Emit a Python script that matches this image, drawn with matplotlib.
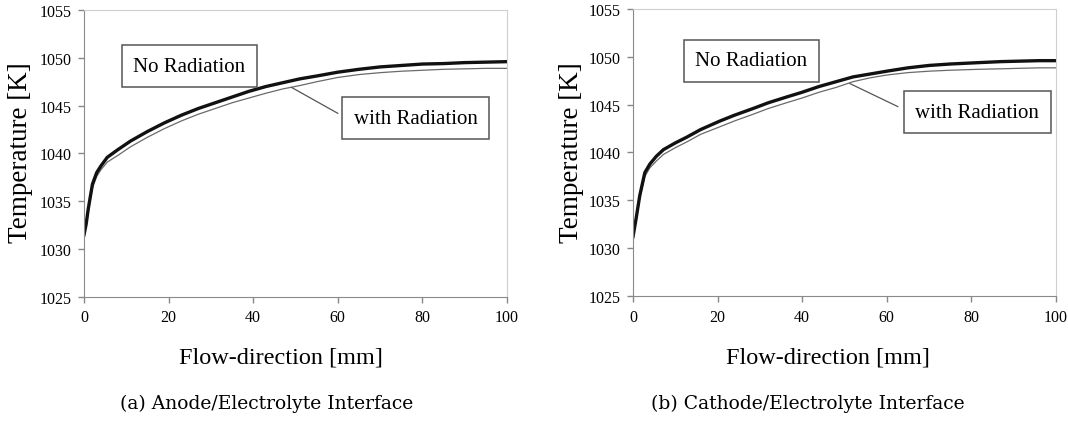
import numpy as np
import matplotlib
matplotlib.use("Agg")
import matplotlib.pyplot as plt

### Data
# (a) Anode/Electrolyte interface
x_a = [0, 0.5, 1, 2, 3, 4, 5.5, 8, 11, 15, 19, 23, 27, 31, 35, 39, 43, 47, 51, 55,
       60, 65, 70, 75, 80, 85, 90, 95, 100]
no_rad_a = [1031.5, 1032.6, 1034.2, 1036.8, 1038.0, 1038.7, 1039.6, 1040.4, 1041.3,
            1042.3, 1043.2, 1044.0, 1044.7, 1045.3, 1045.9, 1046.5, 1047.0, 1047.4,
            1047.8, 1048.1, 1048.5, 1048.8, 1049.05, 1049.2, 1049.35, 1049.4, 1049.5,
            1049.55, 1049.6]
with_rad_a = [1031.3, 1032.4, 1033.9, 1036.4, 1037.6, 1038.3, 1039.1, 1039.8, 1040.7,
              1041.7, 1042.6, 1043.4, 1044.1, 1044.7, 1045.3, 1045.8, 1046.3, 1046.75,
              1047.1, 1047.5, 1047.95, 1048.25, 1048.45, 1048.6, 1048.7, 1048.8,
              1048.85, 1048.9, 1048.9]

# (b) Cathode/Electrolyte interface
x_b = [0, 0.7, 1.6, 2.8, 4, 5.5, 7.2, 10, 12.7, 16, 20.6, 24, 28.4, 32, 36.3, 40, 44,
       48, 52, 56, 60, 65, 70, 75, 82, 87, 91.5, 96, 100]
no_rad_b = [1031.2, 1033.0, 1035.5, 1037.9, 1038.8, 1039.6, 1040.3, 1041.0, 1041.6,
            1042.4, 1043.3, 1043.9, 1044.6, 1045.2, 1045.8, 1046.3, 1046.9, 1047.4,
            1047.9, 1048.2, 1048.5, 1048.85, 1049.1, 1049.25, 1049.4, 1049.5, 1049.55,
            1049.6, 1049.6]
with_rad_b = [1031.1, 1032.8, 1035.2, 1037.5, 1038.4, 1039.1, 1039.8, 1040.5, 1041.1,
              1041.9, 1042.7, 1043.3, 1044.0, 1044.6, 1045.2, 1045.7, 1046.3, 1046.8,
              1047.4, 1047.8, 1048.1, 1048.35, 1048.5, 1048.6, 1048.7, 1048.75, 1048.8,
              1048.85, 1048.85]

captions = ['(a) Anode/Electrolyte Interface', '(b) Cathode/Electrolyte Interface']
yticks = [1025, 1030, 1035, 1040, 1045, 1050, 1055]
xticks = [0, 20, 40, 60, 80, 100]

plt.rcParams['font.family'] = ['Liberation Serif', 'DejaVu Serif']

fig = plt.figure(figsize=(10.68, 4.27), dpi=100)
W, H = 1068, 427

# panel layout in pixels: (left, right, top, bottom)
panels = [(84, 507, 11, 298), (633, 1056, 10, 297)]
data = [(x_a, no_rad_a, with_rad_a), (x_b, no_rad_b, with_rad_b)]
# label box / leader positions in data coords
no_box = [(24.9, 1049.1), (28.0, 1049.6)]
with_box = [(78.4, 1043.7), (81.4, 1044.2)]
leader = [((49.1, 1046.9), (60.0, 1044.2)), ((51.3, 1047.2), (62.6, 1044.8))]
xlabel_x = [281, 828]
ylabel_x = [21, 571]
caption_x = [267, 808]

for i, (l, r, t, b) in enumerate(panels):
    ax = fig.add_axes([l / W, 1 - b / H, (r - l) / W, (b - t) / H])
    x, nr, wr = data[i]
    ax.plot(x, wr, color='#6a6a6a', lw=0.9)
    ax.plot(x, nr, color='#111111', lw=2.4)
    ax.set_xlim(0, 100)
    ax.set_ylim(1025, 1055)
    ax.set_xticks(xticks)
    ax.set_yticks(yticks)
    ax.tick_params(direction='out', length=4, width=1, color='#888888',
                   labelsize=11.5, pad=5)
    for s in ['left', 'bottom']:
        ax.spines[s].set_color('#8a8a8a')
    for s in ['top', 'right']:
        ax.spines[s].set_color('#cfcfcf')

    ax.text(*no_box[i], 'No Radiation', ha='center', va='center', fontsize=15,
            bbox=dict(boxstyle='square,pad=0.55', fc='white', ec='#555555', lw=1.1))
    ax.text(*with_box[i], 'with Radiation', ha='center', va='center', fontsize=15,
            bbox=dict(boxstyle='square,pad=0.55', fc='white', ec='#555555', lw=1.1))
    (x0, y0), (x1, y1) = leader[i]
    ax.plot([x0, x1], [y0, y1], color='#555555', lw=0.9)

    fig.text(xlabel_x[i] / W, 1 - 358 / H, 'Flow-direction [mm]', ha='center',
             va='center', fontsize=17.5)
    fig.text(ylabel_x[i] / W, 1 - 153 / H, 'Temperature [K]', ha='center',
             va='center', rotation=90, fontsize=19.5)
    fig.text(caption_x[i] / W, 1 - 404 / H, captions[i], ha='center', va='center',
             fontsize=13.5, family='DejaVu Serif')

fig.savefig('out.png', dpi=100)
